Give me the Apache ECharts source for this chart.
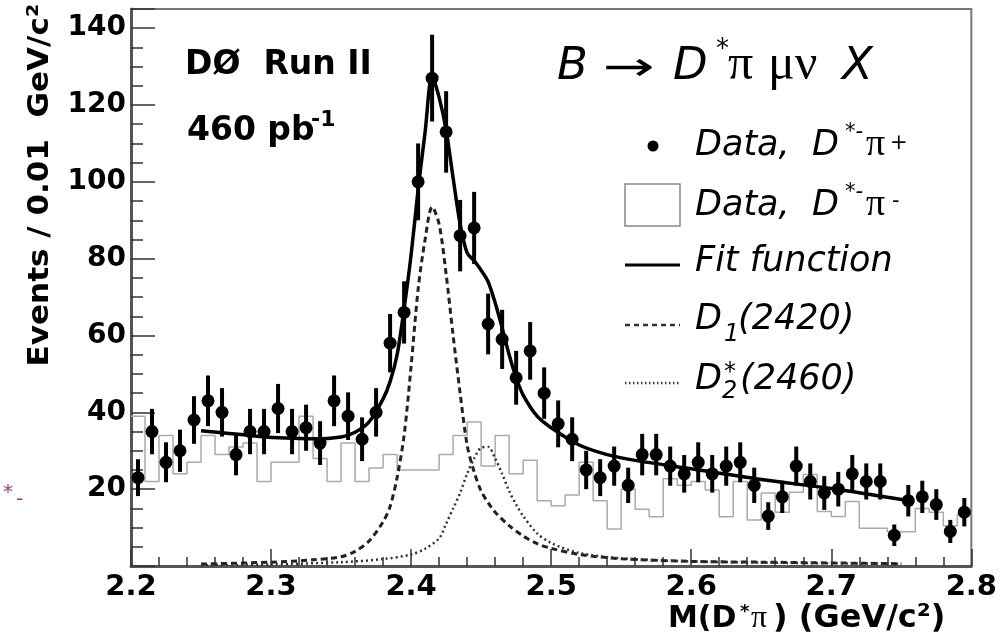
<!DOCTYPE html>
<html>
<head>
<meta charset="utf-8">
<script src="https://cdn.jsdelivr.net/npm/echarts@6/dist/echarts.min.js"></script>
<style>
html, body { margin: 0; padding: 0; background: #fff; }
#chart { width: 1000px; height: 642px; }
</style>
</head>
<body>
<div id="chart"></div>
<script>
// bin centres of M(D*pi), 0.01 GeV wide
const massBins = [
  2.205, 2.215, 2.225, 2.235, 2.245, 2.255, 2.265, 2.275, 2.285, 2.295,
  2.305, 2.315, 2.325, 2.335, 2.345, 2.355, 2.365, 2.375, 2.385, 2.395,
  2.405, 2.415, 2.425, 2.435, 2.445, 2.455, 2.465, 2.475, 2.485, 2.495,
  2.505, 2.515, 2.525, 2.535, 2.545, 2.555, 2.565, 2.575, 2.585, 2.595,
  2.605, 2.615, 2.625, 2.635, 2.645, 2.655, 2.665, 2.675, 2.685, 2.695,
  2.705, 2.715, 2.725, 2.735, 2.745, 2.755, 2.765, 2.775, 2.785, 2.795
];
// D*- pi+ (right sign), points
const dataCounts = [
  23, 35, 27, 30, 38, 43, 40, 29, 35, 35,
  41, 35, 36, 32, 43, 39, 33, 40, 58, 66,
  100, 127, 113, 86, 88, 63, 59, 49, 56, 45,
  37, 33, 25, 23, 26, 21, 29, 29, 26, 24,
  27, 24, 26, 27, 21, 13, 18, 26, 22, 19,
  20, 24, 22, 22, 8, 17, 18, 16, 9, 14
];
const dataErrors = [
  4.8, 5.9, 5.2, 5.5, 6.2, 6.6, 6.3, 5.4, 5.9, 5.9,
  6.4, 5.9, 6.0, 5.7, 6.6, 6.2, 5.7, 6.3, 7.6, 8.1,
  10.0, 11.3, 10.6, 9.3, 9.4, 7.9, 7.7, 7.0, 7.5, 6.7,
  6.1, 5.7, 5.0, 4.8, 5.1, 4.6, 5.4, 5.4, 5.1, 4.9,
  5.2, 4.9, 5.1, 5.2, 4.6, 3.6, 4.2, 5.1, 4.7, 4.4,
  4.5, 4.9, 4.7, 4.7, 2.8, 4.1, 4.2, 4.0, 3.0, 3.7
];
// D*- pi- (wrong sign), histogram
const wrongSign = [
  39, 22, 34, 24, 27, 34, 29, 31, 32, 22,
  27, 27, 39, 28, 22, 32, 22, 25.5, 29, 25,
  25, 25, 29, 34, 37.5, 26, 34, 24, 27.5, 17,
  15.7, 18.5, 27, 17, 9.6, 20, 14.8, 12.8, 22.7, 21,
  22, 19.8, 12.8, 22, 12, 19, 14, 19.2, 23.8, 14.2,
  12.9, 16.8, 9.8, 9.8, 8.9, 8.9, 15, 14, 10.5, 13.5
];
// fit function
const fitMass = [2.25, 2.27, 2.29, 2.31, 2.33, 2.35, 2.36, 2.37, 2.38, 2.385, 2.39, 2.395, 2.40, 2.405, 2.41, 2.415, 2.42, 2.425, 2.43, 2.435, 2.44, 2.445, 2.45, 2.455, 2.46, 2.465, 2.47, 2.475, 2.48, 2.49, 2.50, 2.52, 2.54, 2.56, 2.60, 2.65, 2.70, 2.7525];
const fitValues = [35.2, 34.5, 33.8, 33.3, 33.1, 33.6, 34.8, 37.5, 43.5, 48, 55, 67, 81, 98, 113, 127.5, 122, 113.5, 101, 89, 81.5, 79.5, 77, 74, 68.5, 62, 55, 49, 44.5, 39, 36, 31.5, 29, 27.5, 25.3, 22.5, 20.2, 17.2];
// D1(2420)
const d1Mass = [2.25, 2.30, 2.33, 2.35, 2.36, 2.37, 2.38, 2.385, 2.39, 2.395, 2.40, 2.405, 2.41, 2.415, 2.42, 2.425, 2.43, 2.435, 2.44, 2.445, 2.45, 2.455, 2.46, 2.47, 2.48, 2.49, 2.50, 2.52, 2.55, 2.60, 2.65, 2.70, 2.75];
const d1Values = [0.5, 1.0, 1.6, 2.4, 3.8, 6.5, 11.5, 15.5, 23, 34, 52, 72, 85, 93.5, 89, 76, 60, 45, 31.5, 24.5, 19.5, 16.5, 14, 10.5, 7.8, 5.8, 4.6, 3.0, 1.9, 1.2, 1.0, 0.8, 0.6];
// D2*(2460)
const d2Mass = [2.25, 2.30, 2.35, 2.38, 2.40, 2.41, 2.42, 2.425, 2.43, 2.435, 2.44, 2.445, 2.45, 2.455, 2.46, 2.465, 2.47, 2.475, 2.48, 2.49, 2.50, 2.52, 2.55, 2.60, 2.65, 2.70, 2.75];
const d2Values = [0.2, 0.4, 1.0, 1.8, 3.0, 4.5, 7.2, 11, 15, 19, 24, 28, 30.8, 31, 28, 24, 19.5, 16, 13, 8.5, 6, 3.4, 2.0, 1.2, 0.9, 0.7, 0.6];

const halfBin = 0.005;
const histLine = [];
massBins.forEach((m, i) => {
  histLine.push([m - halfBin, wrongSign[i]]);
  histLine.push([m + halfBin, wrongSign[i]]);
});
const zip = (xs, ys) => xs.map((x, i) => [x, ys[i]]);

const sans = 'DejaVu Sans';
const serif = 'Liberation Serif';
function label(x, y, text, size, extra) {
  return {
    type: 'text', x: x, y: y, silent: true,
    style: Object.assign({
      text: text, fontSize: size, fontFamily: sans, fill: '#000',
      align: 'left', verticalAlign: 'middle'
    }, extra || {})
  };
}
const ital = { fontStyle: 'italic' };
const bold = { fontWeight: 'bold' };

const yTitle = label(40, 185, 'Events / 0.01  GeV/c²', 29, { fontWeight: 'bold', align: 'center' });
yTitle.rotation = Math.PI / 2;
yTitle.scaleX = 1.07;

const arrow = label(603, 70, '→', 40);
arrow.scaleX = 1.55;

const chart = echarts.init(document.getElementById('chart'));
chart.setOption({
  animation: false,
  grid: { left: 131, right: 25, top: 9, bottom: 76, show: true, borderColor: '#777', borderWidth: 2 },
  xAxis: {
    type: 'value', min: 2.2, max: 2.8, interval: 0.1,
    axisLine: { onZero: false, lineStyle: { color: '#555', width: 3 } },
    axisTick: { inside: true, length: 17, lineStyle: { color: '#333', width: 1.5 } },
    minorTick: { show: true, splitNumber: 5, length: 9, lineStyle: { color: '#333', width: 1.5 } },
    axisLabel: {
      formatter: v => v.toFixed(1), showMinLabel: true, showMaxLabel: true,
      fontFamily: sans, fontWeight: 'bold', fontSize: 29, color: '#000', margin: 7
    },
    splitLine: { show: false }
  },
  yAxis: [{
    type: 'value', min: 0, max: 145, interval: 5,
    axisLine: { show: true, onZero: false, lineStyle: { color: '#555', width: 3 } },
    axisTick: { inside: true, length: 12, lineStyle: { color: '#333', width: 1.5 } },
    axisLabel: {
      formatter: v => (v > 0 && v % 20 === 0) ? String(v) : '',
      fontFamily: sans, fontWeight: 'bold', fontSize: 28, color: '#000', margin: 5
    },
    splitLine: { show: false }
  }, {
    type: 'value', min: 0, max: 145, interval: 20, position: 'left',
    axisLine: { show: false },
    axisTick: { show: true, inside: true, length: 24, lineStyle: { color: '#333', width: 1.5 } },
    axisLabel: { show: false },
    splitLine: { show: false }
  }],
  series: [{
    name: 'Data, D*-pi-', type: 'line', data: histLine, showSymbol: false, z: 1,
    lineStyle: { color: '#aaa', width: 1.5 }
  }, {
    name: 'D1(2420)', type: 'line', data: zip(d1Mass, d1Values), showSymbol: false, smooth: 0.3, z: 2,
    lineStyle: { color: '#222', width: 3, type: [6, 4] }
  }, {
    name: 'D2*(2460)', type: 'line', data: zip(d2Mass, d2Values), showSymbol: false, smooth: 0.3, z: 2,
    lineStyle: { color: '#333', width: 2.5, type: [2, 3] }
  }, {
    name: 'Fit function', type: 'line', data: zip(fitMass, fitValues), showSymbol: false, smooth: 0.3, z: 3,
    lineStyle: { color: '#000', width: 3.5 }
  }, {
    name: 'errors', type: 'custom', z: 4,
    data: massBins.map((m, i) => [m, dataCounts[i] - dataErrors[i], dataCounts[i] + dataErrors[i]]),
    encode: { x: 0, y: [1, 2] },
    renderItem: (params, api) => {
      const lo = api.coord([api.value(0), api.value(1)]);
      const hi = api.coord([api.value(0), api.value(2)]);
      return { type: 'line', shape: { x1: lo[0], y1: lo[1], x2: hi[0], y2: hi[1] }, style: { stroke: '#000', lineWidth: 4 } };
    }
  }, {
    name: 'Data, D*-pi+', type: 'scatter', data: zip(massBins, dataCounts), z: 5,
    symbol: 'circle', symbolSize: 13, itemStyle: { color: '#000', opacity: 1 }
  }],
  graphic: [
    // axis titles
    yTitle,
    label(668, 619, 'M(D', 30, bold),
    label(740, 612, '*', 18, bold),
    label(751, 619, 'π', 32, { fontFamily: serif }),
    label(773, 619, ') (GeV/c²)', 32, bold),
    // experiment labels
    label(185, 65, 'DØ  Run II', 33, bold),
    label(187, 131, '460 pb', 33, bold),
    label(311, 120, '-1', 22, bold),
    // decay
    label(557, 67, 'B', 45, ital),
    arrow,
    label(673, 67, 'D', 45, ital),
    label(716, 50, '*', 26),
    label(728, 66, 'π', 50, { fontFamily: serif }),
    label(768, 66, 'μν', 50, { fontFamily: serif }),
    label(842, 67, 'X', 45, ital),
    // legend
    { type: 'circle', shape: { cx: 653, cy: 146, r: 5.5 }, style: { fill: '#000' }, silent: true },
    label(695, 145.5, 'Data,  D', 35, ital),
    label(845, 133, '*-', 21, ital),
    label(866, 145, 'π', 38, { fontFamily: serif }),
    label(890, 144, '+', 21),
    { type: 'rect', shape: { x: 625, y: 184, width: 55, height: 42 }, style: { fill: 'none', stroke: '#888', lineWidth: 1.5 }, silent: true },
    label(695, 205.5, 'Data,  D', 35, ital),
    label(845, 193, '*-', 21, ital),
    label(866, 205, 'π', 38, { fontFamily: serif }),
    label(892, 202, '-', 21),
    { type: 'line', shape: { x1: 625, y1: 265, x2: 680, y2: 265 }, style: { stroke: '#000', lineWidth: 3 }, silent: true },
    label(695, 262, 'Fit function', 35, ital),
    { type: 'line', shape: { x1: 625, y1: 325, x2: 680, y2: 325 }, style: { stroke: '#333', lineWidth: 2.5, lineDash: [5, 4] }, silent: true },
    label(695, 320, 'D', 35, ital),
    label(724, 335, '1', 24, ital),
    label(738, 320, '(2420)', 35, ital),
    { type: 'line', shape: { x1: 625, y1: 383, x2: 680, y2: 383 }, style: { stroke: '#444', lineWidth: 2.5, lineDash: [1.5, 2.5] }, silent: true },
    label(695, 380, 'D', 35, ital),
    label(724, 373, '*', 24, ital),
    label(722, 392, '2', 24, ital),
    label(740, 380, '(2460)', 35, ital),
    // stray mark at left
    label(3, 493, '*', 20, { fill: '#9c3d6e' }),
    label(16, 500, '-', 20, { fill: '#9c3d6e' })
  ]
});
</script>
</body>
</html>
